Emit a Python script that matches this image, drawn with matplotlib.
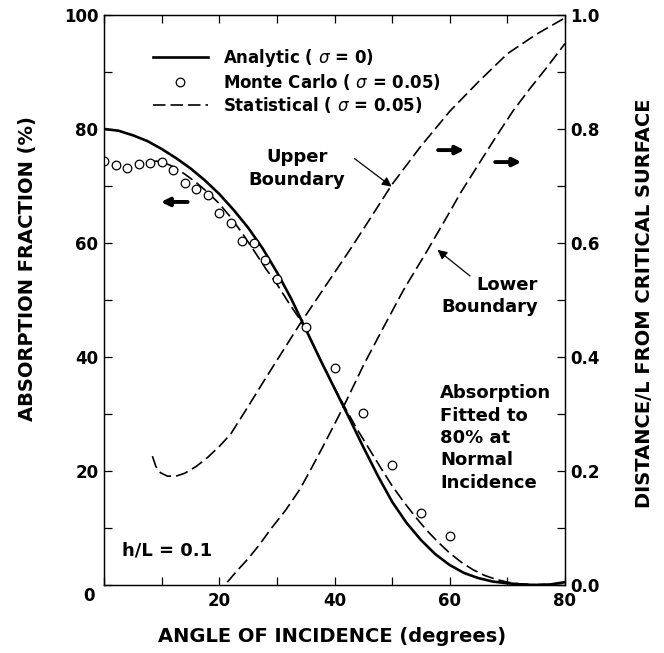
import matplotlib
matplotlib.use("Agg")
import matplotlib.pyplot as plt
from matplotlib.transforms import ScaledTranslation

plt.rcParams["font.family"] = ["DejaVu Sans"]
plt.rcParams["font.weight"] = "bold"
plt.rcParams["mathtext.fontset"] = "custom"
plt.rcParams["mathtext.it"] = "DejaVu Sans:italic:normal"
plt.rcParams["mathtext.rm"] = "DejaVu Sans:normal"

# ── data ──
mc_angle = [0, 2, 4, 6, 8, 10, 12, 14, 16, 18, 20, 22, 24, 26, 28, 30, 35, 40, 45, 50, 55, 60]
mc_absorption = [74.3, 73.6, 73.1, 73.8, 74.0, 74.2, 72.8, 70.5, 69.5, 68.4, 65.2, 63.5,
                 60.4, 60.0, 57.1, 53.6, 45.3, 38.1, 30.1, 21.0, 12.6, 8.6]

analytic_angle = [0, 2.5, 5, 7.5, 10, 12.5, 15, 17.5, 20, 22.5, 25, 27.5, 30, 32.5, 35, 37.5,
                  40, 42.5, 45, 47.5, 50, 52.5, 55, 57.5, 60, 62.5, 65, 67.5, 70, 72.5, 75, 77.5, 80]
analytic_abs = [80.0, 79.7, 78.9, 77.9, 76.5, 74.9, 73.1, 71.0, 68.6, 65.8, 62.7, 59.1, 54.9,
                50.2, 44.9, 39.6, 34.5, 29.4, 24.2, 19.2, 14.6, 10.9, 7.9, 5.4, 3.5, 2.1,
                1.2, 0.6, 0.3, 0.1, 0.0, 0.1, 0.5]

stat_angle = [8, 10, 12, 14, 16, 18, 20, 22, 24, 26, 28, 30, 32, 34, 36, 38, 40, 42, 44, 46,
              48, 50, 52, 54, 56, 58, 60, 62, 64, 66, 68, 70, 72, 75, 80]
stat_abs = [74.4, 74.3, 73.4, 72.1, 70.6, 68.9, 66.9, 64.5, 61.7, 58.7, 55.6, 52.8, 49.6,
            46.6, 42.8, 38.6, 34.6, 30.8, 27.2, 23.9, 20.6, 17.4, 14.6, 12.0, 9.6, 7.5,
            5.6, 4.0, 2.7, 1.7, 1.0, 0.5, 0.2, 0.05, 0.3]

upper_angle = [8.4, 9.0, 9.8, 11.0, 12.5, 14, 16, 18, 20, 22, 25, 28, 31, 34, 37, 40, 43, 46,
               50, 55, 60, 65, 70, 75, 80]
upper_dist = [0.226, 0.208, 0.197, 0.191, 0.191, 0.196, 0.208, 0.224, 0.243, 0.265, 0.313,
              0.362, 0.410, 0.458, 0.503, 0.548, 0.593, 0.640, 0.703, 0.770, 0.831, 0.883,
              0.932, 0.966, 0.995]

lower_angle = [21.4, 23, 25, 27, 29, 31.5, 34, 36, 38, 40, 42, 45, 48.5, 52, 56, 59, 62, 65,
               68, 71, 74, 77, 80]
lower_dist = [0.005, 0.024, 0.046, 0.071, 0.099, 0.131, 0.168, 0.205, 0.243, 0.282, 0.322,
              0.385, 0.452, 0.518, 0.585, 0.637, 0.690, 0.738, 0.786, 0.832, 0.872, 0.910, 0.950]

x_ticks = list(range(0, 81, 10))
x_labels = ["0", "", "20", "", "40", "", "60", "", "80"]
yl_ticks = list(range(0, 101, 10))
yl_labels = ["", "", "20", "", "40", "", "60", "", "80", "", "100"]
yr_ticks = [i / 10 for i in range(11)]
yr_labels = ["0.0", "", "0.2", "", "0.4", "", "0.6", "", "0.8", "", "1.0"]

FS_TICK = 12
FS_NOTE = 13
FS_LEG = 12
FS_AXIS = 14
DASH_LW = 1.2
DASH = (9.0 / DASH_LW, 3.6 / DASH_LW)

fig = plt.figure(figsize=(6.64, 6.53), dpi=100)
ax = fig.add_axes([104 / 664, 1 - 585 / 653, 461 / 664, 570 / 653])
ax2 = ax.twinx()

ax.plot(analytic_angle, analytic_abs, color="black", lw=1.9,
        label=r"Analytic ( $\sigma$ = 0)")
ax.plot(mc_angle, mc_absorption, ls="none", marker="o", ms=6.2, mfc="white",
        mec="black", mew=0.9, label=r"Monte Carlo ( $\sigma$ = 0.05)", zorder=4)
ax.plot(stat_angle, stat_abs, color="black", lw=DASH_LW, dashes=DASH,
        label=r"Statistical ( $\sigma$ = 0.05)")

ax2.plot(upper_angle, upper_dist, color="black", lw=DASH_LW, dashes=DASH)
ax2.plot(lower_angle, lower_dist, color="black", lw=DASH_LW, dashes=DASH)

ax.set_xlim(0, 80)
ax.set_ylim(0, 100)
ax2.set_ylim(0, 1.0)

ax.set_xticks(x_ticks)
ax.set_xticklabels(x_labels)
ax.set_yticks(yl_ticks)
ax.set_yticklabels(yl_labels)
ax2.set_yticks(yr_ticks)
ax2.set_yticklabels(yr_labels)

ax.tick_params(axis="both", direction="in", length=6, width=0.9, labelsize=FS_TICK,
               top=True, pad=5)
ax.tick_params(axis="y", pad=4)
ax2.tick_params(axis="y", direction="in", length=6, width=0.9, labelsize=FS_TICK, pad=4)
for lab in ax.get_xticklabels() + ax.get_yticklabels() + ax2.get_yticklabels():
    lab.set_fontweight("bold")

# the shared corner "0" sits left of the axis
zero = ax.get_xticklabels()[0]
zero.set_transform(zero.get_transform() + ScaledTranslation(-0.15, 0.05, fig.dpi_scale_trans))

for sp in list(ax.spines.values()) + list(ax2.spines.values()):
    sp.set_linewidth(0.9)

fig.text(28 / 664, 1 - 269 / 653, "ABSORPTION FRACTION (%)", rotation=90,
         ha="center", va="center", fontsize=FS_AXIS, fontweight="bold")
fig.text(644 / 664, 1 - 303 / 653, "DISTANCE/L FROM CRITICAL SURFACE", rotation=90,
         ha="center", va="center", fontsize=FS_AXIS, fontweight="bold")
fig.text(332 / 664, 1 - 636 / 653, "ANGLE OF INCIDENCE (degrees)",
         ha="center", va="center", fontsize=FS_AXIS, fontweight="bold")

leg = ax.legend(loc="upper left", bbox_to_anchor=(0.08, 0.965), frameon=False,
                handlelength=3.3, handletextpad=0.9, labelspacing=0.2,
                borderpad=0.2, prop={"weight": "bold", "size": FS_LEG})

ax.text(33.5, 73, "Upper\nBoundary", ha="center", va="center", fontsize=FS_NOTE,
        fontweight="bold", linespacing=1.37)
ax.annotate("", xy=(50.3, 69.6), xytext=(43.1, 75.1),
            arrowprops=dict(arrowstyle="-|>", lw=0.9, color="black", mutation_scale=14))
ax.text(75.3, 50.7, "Lower\nBoundary", ha="right", va="center", fontsize=FS_NOTE,
        fontweight="bold", linespacing=1.3, multialignment="right")
ax.annotate("", xy=(57.5, 59.1), xytext=(63.9, 53.9),
            arrowprops=dict(arrowstyle="-|>", lw=0.9, color="black", mutation_scale=14))

thick = dict(arrowstyle="-|>", lw=2.8, color="black", mutation_scale=12)
ax.annotate("", xy=(9.4, 67.2), xytext=(15.0, 67.2), arrowprops=thick)
ax.annotate("", xy=(63.0, 76.3), xytext=(57.5, 76.3), arrowprops=thick)
ax.annotate("", xy=(72.9, 74.2), xytext=(67.4, 74.2), arrowprops=thick)

ax.text(58.3, 25.8, "Absorption\nFitted to\n80% at\nNormal\nIncidence", ha="left",
        va="center", fontsize=FS_NOTE, fontweight="bold", linespacing=1.31)
ax.text(3.1, 6.1, "h/L = 0.1", ha="left", va="center", fontsize=FS_NOTE, fontweight="bold")

fig.savefig("out.png", dpi=100)
